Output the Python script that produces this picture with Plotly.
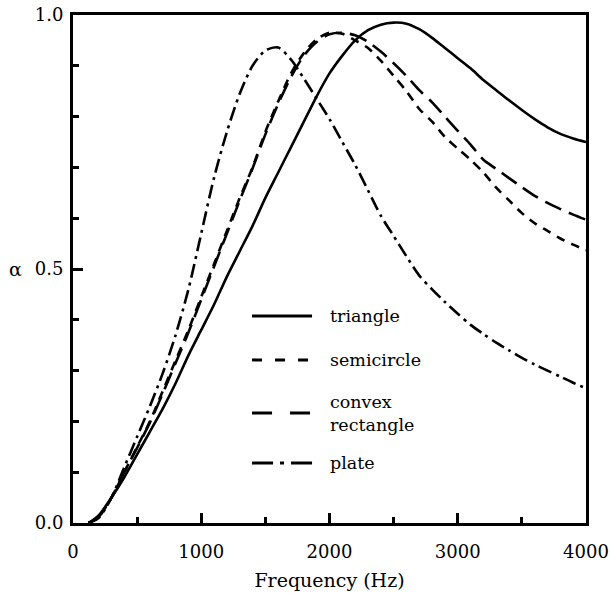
import plotly.graph_objects as go

# ---- data ----
freq = [120, 200, 300, 400, 500, 600, 700, 800, 900, 1000, 1100, 1200, 1300, 1400,
        1500, 1600, 1700, 1800, 1900, 2000, 2100, 2200, 2300, 2400, 2500, 2600,
        2700, 2800, 2900, 3000, 3100, 3200, 3300, 3400, 3500, 3600, 3700, 3800,
        3900, 4000]

triangle = [0.0, 0.015, 0.05, 0.09, 0.135, 0.18, 0.225, 0.275, 0.33, 0.38, 0.43,
            0.485, 0.535, 0.585, 0.64, 0.69, 0.74, 0.79, 0.84, 0.885, 0.92, 0.95,
            0.97, 0.981, 0.985, 0.983, 0.972, 0.955, 0.935, 0.915, 0.895, 0.872,
            0.852, 0.832, 0.813, 0.795, 0.779, 0.766, 0.757, 0.75]

semicircle = [0.0, 0.012, 0.05, 0.1, 0.15, 0.2, 0.26, 0.32, 0.38, 0.445, 0.51,
              0.575, 0.64, 0.70, 0.77, 0.83, 0.885, 0.925, 0.952, 0.965, 0.963,
              0.95, 0.935, 0.91, 0.88, 0.85, 0.815, 0.79, 0.76, 0.737, 0.715,
              0.69, 0.66, 0.635, 0.61, 0.59, 0.575, 0.56, 0.548, 0.537]

rectangle = [0.0, 0.012, 0.05, 0.1, 0.148, 0.198, 0.255, 0.315, 0.375, 0.44,
             0.505, 0.57, 0.635, 0.698, 0.765, 0.825, 0.878, 0.92, 0.947, 0.962,
             0.965, 0.96, 0.947, 0.928, 0.905, 0.88, 0.852, 0.828, 0.8, 0.772,
             0.745, 0.715, 0.697, 0.679, 0.661, 0.644, 0.63, 0.618, 0.607, 0.597]

plate = [0.0, 0.01, 0.05, 0.11, 0.17, 0.23, 0.295, 0.37, 0.46, 0.57, 0.68, 0.77,
         0.845, 0.9, 0.93, 0.936, 0.912, 0.875, 0.835, 0.795, 0.75, 0.705, 0.655,
         0.605, 0.565, 0.525, 0.487, 0.46, 0.435, 0.412, 0.39, 0.372, 0.355,
         0.34, 0.325, 0.312, 0.3, 0.288, 0.276, 0.265]

series_names = ["triangle", "semicircle", "convex<br>rectangle", "plate"]
series_values = [triangle, semicircle, rectangle, plate]
x_ticks = [0, 1000, 2000, 3000, 4000]
y_ticks = [0.0, 0.5, 1.0]

# ---- styles ----
FONT = "DejaVu Serif"
dashes = ["solid", "9px,7px", "18px,8px", "14px,5px,3px,5px"]
legend_dashes = ["solid", "10px,13px", "20px,18px", "21px,7px,4px,7px"]

fig = go.Figure()
for name, vals, d in zip(series_names, series_values, dashes):
    fig.add_trace(go.Scatter(
        x=freq, y=vals, mode="lines", name=name.replace("<br>", " "),
        line=dict(color="black", width=2.6, dash=d, shape="spline", smoothing=0.8),
        showlegend=False,
    ))

# custom legend (sample lines + labels) in paper coordinates
leg_y = [0.4075, 0.321, 0.2165, 0.118]
for name, d, yy in zip(series_names, legend_dashes, leg_y):
    fig.add_shape(type="line", xref="paper", yref="paper",
                  x0=0.349, x1=0.466, y0=yy, y1=yy,
                  line=dict(color="black", width=3, dash=d))
    fig.add_annotation(xref="paper", yref="paper", x=0.498, y=yy,
                       text=name, showarrow=False, xanchor="left",
                       yanchor="middle", align="left",
                       font=dict(family=FONT, size=17.5, color="black"))

# y-axis title (upright alpha)
fig.add_annotation(xref="paper", yref="paper", x=-0.113, y=0.5, text="α",
                   showarrow=False, xanchor="center", yanchor="middle",
                   font=dict(family=FONT, size=19, color="black"))

axis_common = dict(
    showgrid=False, zeroline=False, showline=True, linecolor="black",
    linewidth=3, mirror=True, ticks="inside", tickcolor="black",
    tickwidth=2.5, ticklen=10, automargin=False,
    tickfont=dict(family=FONT, size=18, color="black"),
)

fig.update_xaxes(
    range=[0, 4000], tickvals=x_ticks, ticktext=[str(v) for v in x_ticks],
    ticklabelstandoff=10,
    minor=dict(dtick=500, ticks="inside", ticklen=6, tickwidth=2.5,
               tickcolor="black", showgrid=False),
    title=dict(text="Frequency (Hz)", font=dict(family=FONT, size=19,
                                                  color="black"), standoff=14),
    **axis_common,
)
fig.update_yaxes(
    range=[0, 1.0], tickvals=y_ticks, ticktext=[f"{v:.1f}" for v in y_ticks],
    ticklabelstandoff=3,
    minor=dict(dtick=0.1, ticks="inside", ticklen=6, tickwidth=2.5,
               tickcolor="black", showgrid=False),
    **axis_common,
)

fig.update_layout(
    width=610, height=594,
    margin=dict(l=73, r=24, t=15, b=71),
    paper_bgcolor="white", plot_bgcolor="white",
    font=dict(family=FONT, color="black"),
)

fig.write_html("out.html")
